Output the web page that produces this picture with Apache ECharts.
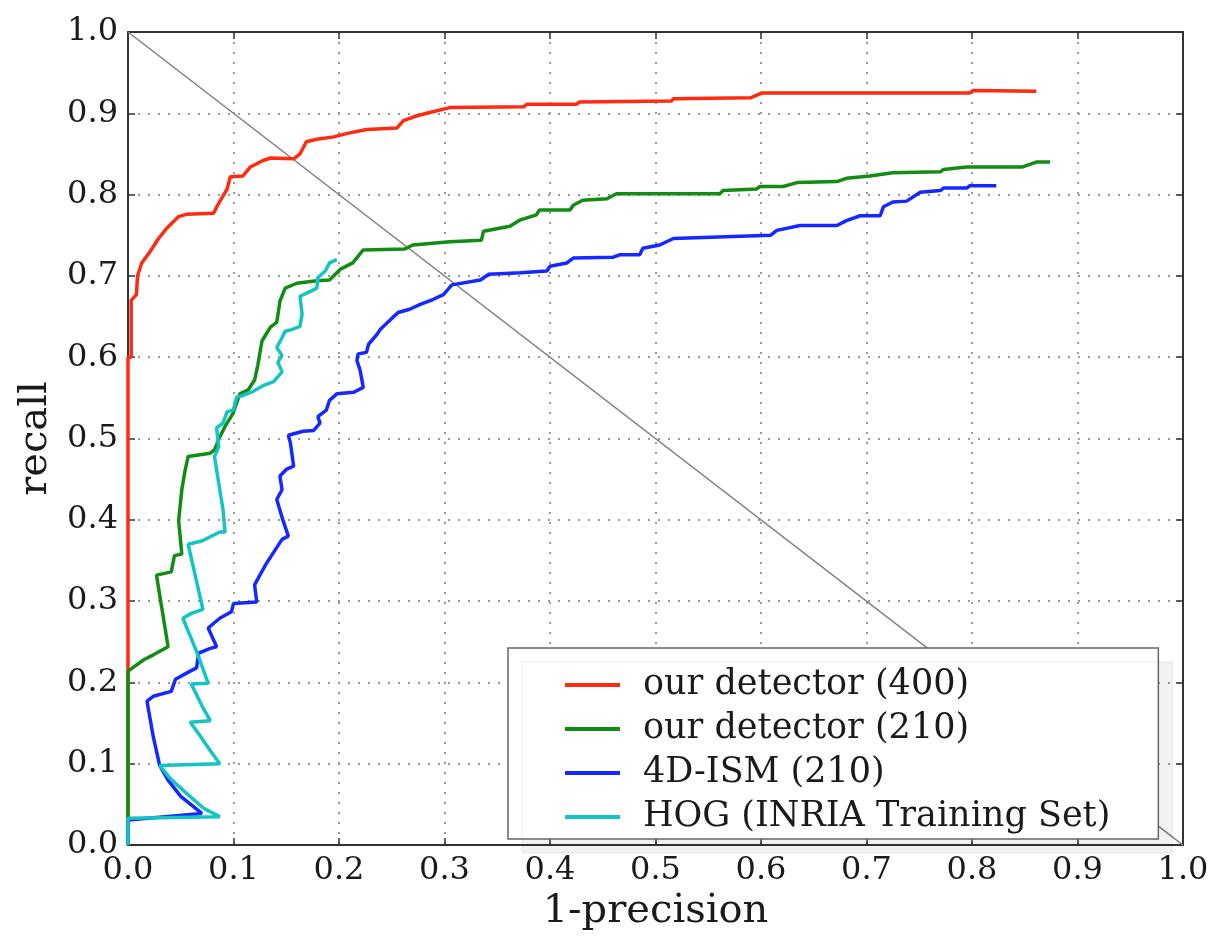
<!DOCTYPE html>
<html>
<head>
<meta charset="utf-8">
<script src="https://cdn.jsdelivr.net/npm/echarts@6/dist/echarts.min.js"></script>
<style>
html,body{margin:0;padding:0;background:#fff;}
#chart{width:1222px;height:937px;}
</style>
</head>
<body>
<div id="chart"></div>
<script>
const seriesNames = ['our detector (400)', 'our detector (210)', '4D-ISM (210)', 'HOG (INRIA Training Set)'];
const xTicks = [0, 0.1, 0.2, 0.3, 0.4, 0.5, 0.6, 0.7, 0.8, 0.9, 1.0];
const yTicks = [0, 0.1, 0.2, 0.3, 0.4, 0.5, 0.6, 0.7, 0.8, 0.9, 1.0];

const red400 = [[0,0],[0,0.6],[0.003,0.6],[0.003,0.67],[0.008,0.677],[0.009,0.70],[0.013,0.716],[0.021,0.73],[0.029,0.746],[0.037,0.759],[0.048,0.773],[0.056,0.776],[0.081,0.777],[0.085,0.787],[0.094,0.807],[0.097,0.822],[0.109,0.823],[0.116,0.834],[0.128,0.842],[0.135,0.845],[0.157,0.844],[0.163,0.85],[0.169,0.865],[0.179,0.868],[0.195,0.871],[0.207,0.875],[0.226,0.880],[0.255,0.882],[0.261,0.891],[0.274,0.897],[0.286,0.901],[0.305,0.907],[0.375,0.908],[0.378,0.911],[0.425,0.911],[0.428,0.914],[0.515,0.915],[0.517,0.918],[0.59,0.919],[0.601,0.925],[0.798,0.925],[0.801,0.928],[0.861,0.927]];

const green210 = [[0,0],[0,0.214],[0.015,0.228],[0.024,0.234],[0.038,0.244],[0.027,0.332],[0.041,0.336],[0.044,0.356],[0.051,0.358],[0.048,0.399],[0.051,0.437],[0.054,0.46],[0.057,0.478],[0.078,0.482],[0.082,0.486],[0.087,0.502],[0.092,0.515],[0.0995,0.531],[0.106,0.555],[0.114,0.56],[0.120,0.572],[0.123,0.59],[0.127,0.62],[0.135,0.637],[0.141,0.643],[0.144,0.669],[0.149,0.685],[0.16,0.691],[0.179,0.694],[0.191,0.695],[0.201,0.708],[0.213,0.716],[0.223,0.732],[0.262,0.733],[0.27,0.738],[0.305,0.742],[0.335,0.744],[0.337,0.755],[0.362,0.761],[0.372,0.769],[0.387,0.775],[0.39,0.781],[0.419,0.781],[0.422,0.787],[0.431,0.793],[0.454,0.795],[0.463,0.801],[0.561,0.801],[0.564,0.805],[0.596,0.807],[0.599,0.81],[0.621,0.81],[0.635,0.815],[0.672,0.816],[0.681,0.82],[0.703,0.823],[0.725,0.827],[0.77,0.828],[0.773,0.831],[0.795,0.834],[0.848,0.834],[0.861,0.84],[0.874,0.84]];

const blueISM = [[0,0],[0,0.031],[0.07,0.039],[0.05,0.06],[0.038,0.08],[0.03,0.098],[0.024,0.133],[0.018,0.177],[0.024,0.183],[0.041,0.189],[0.045,0.204],[0.059,0.214],[0.065,0.218],[0.067,0.236],[0.078,0.242],[0.084,0.244],[0.076,0.267],[0.087,0.279],[0.098,0.287],[0.100,0.297],[0.122,0.299],[0.120,0.32],[0.125,0.332],[0.131,0.346],[0.136,0.356],[0.146,0.376],[0.152,0.38],[0.147,0.399],[0.141,0.425],[0.146,0.437],[0.144,0.454],[0.150,0.462],[0.157,0.466],[0.154,0.494],[0.152,0.504],[0.166,0.509],[0.176,0.510],[0.182,0.519],[0.180,0.527],[0.188,0.535],[0.191,0.547],[0.198,0.555],[0.214,0.557],[0.223,0.563],[0.22,0.584],[0.217,0.596],[0.218,0.604],[0.226,0.606],[0.228,0.616],[0.236,0.628],[0.239,0.634],[0.251,0.649],[0.256,0.655],[0.267,0.659],[0.277,0.665],[0.289,0.671],[0.299,0.677],[0.307,0.689],[0.334,0.695],[0.342,0.702],[0.372,0.704],[0.397,0.706],[0.4,0.712],[0.416,0.716],[0.422,0.722],[0.46,0.723],[0.466,0.726],[0.485,0.726],[0.488,0.734],[0.504,0.738],[0.517,0.746],[0.609,0.75],[0.615,0.756],[0.637,0.762],[0.672,0.762],[0.681,0.768],[0.694,0.774],[0.713,0.774],[0.716,0.785],[0.725,0.791],[0.738,0.792],[0.751,0.803],[0.77,0.805],[0.773,0.808],[0.795,0.808],[0.798,0.811],[0.823,0.811]];

const cyanHOG = [[0,0],[0,0.033],[0.087,0.035],[0.072,0.045],[0.056,0.063],[0.04,0.082],[0.030,0.098],[0.087,0.1],[0.078,0.116],[0.068,0.135],[0.059,0.151],[0.078,0.153],[0.071,0.169],[0.065,0.185],[0.060,0.198],[0.076,0.199],[0.066,0.235],[0.058,0.26],[0.052,0.279],[0.06,0.285],[0.071,0.29],[0.064,0.33],[0.057,0.37],[0.07,0.374],[0.087,0.385],[0.092,0.385],[0.09,0.413],[0.086,0.445],[0.082,0.478],[0.086,0.49],[0.084,0.513],[0.09,0.519],[0.094,0.533],[0.0998,0.535],[0.103,0.551],[0.109,0.553],[0.117,0.557],[0.128,0.565],[0.138,0.57],[0.146,0.582],[0.142,0.594],[0.146,0.602],[0.141,0.612],[0.146,0.624],[0.149,0.632],[0.155,0.634],[0.163,0.638],[0.165,0.653],[0.163,0.675],[0.173,0.681],[0.179,0.685],[0.180,0.698],[0.187,0.706],[0.191,0.716],[0.198,0.72]];

const diagonal = [[0,1],[1,0]];

const colors = ['#ff2a12', '#128c12', '#1428ff', '#14c4c4'];
const FONT = "'DejaVu Serif', serif";

const chart = echarts.init(document.getElementById('chart'), null, {renderer: 'canvas'});

function fmt(v){ return v.toFixed(1); }

const axisCommon = {
  type: 'value', min: 0, max: 1, interval: 0.1
};

const option = {
  backgroundColor: '#fff',
  animation: false,
  grid: {left: 128, right: 39, top: 32, bottom: 85, containLabel: false},
  legend: {
    data: seriesNames,
    orient: 'vertical',
    left: 508, top: 648,
    z: 20,
    padding: [17, 48, 2, 57],
    itemGap: 4,
    itemWidth: 55, itemHeight: 4,
    icon: 'rect',
    backgroundColor: '#ffffff',
    borderColor: '#666',
    borderWidth: 1.5,
    borderRadius: 0,
    shadowColor: 'rgba(0,0,0,0.05)',
    shadowOffsetX: 14, shadowOffsetY: 14, shadowBlur: 0,
    textStyle: {fontFamily: FONT, fontSize: 35, color: '#1a1a1a', lineHeight: 40, padding: [0,0,0,18]}
  },
  xAxis: [
    Object.assign({}, axisCommon, {
      position: 'bottom',
      name: '1-precision', nameLocation: 'middle', nameGap: 40,
      nameTextStyle: {fontFamily: FONT, fontSize: 40, color: '#1a1a1a'},
      axisLine: {onZero: false, lineStyle: {color: '#333', width: 2}},
      axisTick: {inside: true, length: 7, lineStyle: {color: '#333', width: 1.5}},
      axisLabel: {fontFamily: FONT, fontSize: 32, color: '#1a1a1a', margin: 10, formatter: fmt, customValues: xTicks},
      splitLine: {show: true, lineStyle: {color: '#999', width: 2, type: [2, 8]}}
    }),
    Object.assign({}, axisCommon, {
      position: 'top',
      axisLine: {onZero: false, lineStyle: {color: '#333', width: 2}},
      axisTick: {inside: true, length: 7, lineStyle: {color: '#333', width: 1.5}},
      axisLabel: {show: false},
      splitLine: {show: false}
    })
  ],
  yAxis: [
    Object.assign({}, axisCommon, {
      position: 'left',
      name: 'recall', nameLocation: 'middle', nameGap: 72,
      nameTextStyle: {fontFamily: FONT, fontSize: 40, color: '#1a1a1a'},
      axisLine: {onZero: false, lineStyle: {color: '#333', width: 2}},
      axisTick: {inside: true, length: 7, lineStyle: {color: '#333', width: 1.5}},
      axisLabel: {fontFamily: FONT, fontSize: 32, color: '#1a1a1a', margin: 10, formatter: fmt, customValues: yTicks},
      splitLine: {show: true, lineStyle: {color: '#999', width: 2, type: [2, 8]}}
    }),
    Object.assign({}, axisCommon, {
      position: 'right',
      axisLine: {onZero: false, lineStyle: {color: '#333', width: 2}},
      axisTick: {inside: true, length: 7, lineStyle: {color: '#333', width: 1.5}},
      axisLabel: {show: false},
      splitLine: {show: false}
    })
  ],
  series: [
    {name: 'diagonal', type: 'line', data: diagonal, showSymbol: false, symbol: 'none', silent: true, z: 1,
     lineStyle: {color: '#808080', width: 1.5}},
    {name: seriesNames[0], type: 'line', data: red400, symbol: 'none', color: colors[0], lineStyle: {width: 3.5, color: colors[0]}, z: 3},
    {name: seriesNames[1], type: 'line', data: green210, symbol: 'none', color: colors[1], lineStyle: {width: 3.5, color: colors[1]}, z: 3},
    {name: seriesNames[2], type: 'line', data: blueISM, symbol: 'none', color: colors[2], lineStyle: {width: 3.5, color: colors[2]}, z: 3},
    {name: seriesNames[3], type: 'line', data: cyanHOG, symbol: 'none', color: colors[3], lineStyle: {width: 3.5, color: colors[3]}, z: 4}
  ]
};
chart.setOption(option);
</script>
</body>
</html>
